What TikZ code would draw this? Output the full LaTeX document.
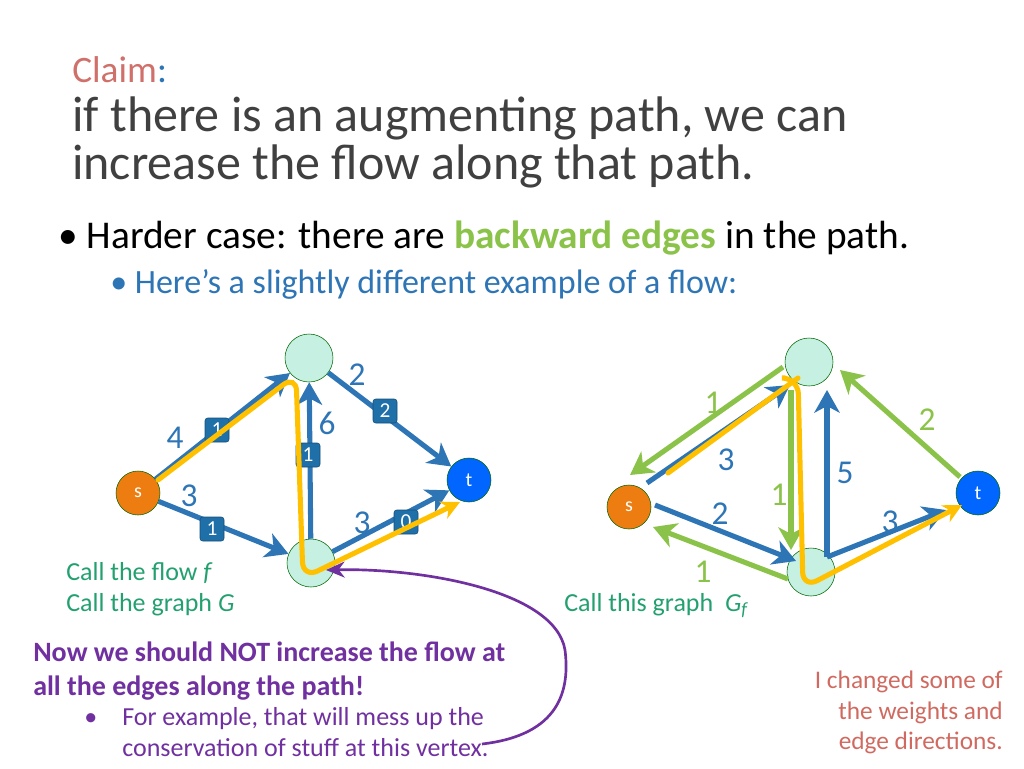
\documentclass[tikz,border=0pt]{standalone}
\usepackage{fontspec}
\setmainfont{Carlito}
\usetikzlibrary{arrows.meta}
\definecolor{eblue}{HTML}{2E75B6}
\definecolor{egreen}{HTML}{8BC34A}
\definecolor{ygold}{HTML}{FFC000}
\definecolor{mint}{HTML}{C6F0E2}
\definecolor{sorange}{HTML}{ED7D11}
\definecolor{tblue}{HTML}{0066FF}
\definecolor{boxblue}{HTML}{1F6FA8}
\definecolor{ttext}{HTML}{404040}
\definecolor{claimc}{HTML}{D0706A}
\definecolor{lblue}{HTML}{2E75B6}
\definecolor{tgreen}{HTML}{23A06F}
\definecolor{purp}{HTML}{7030A0}
\definecolor{notec}{HTML}{D06A60}
\begin{document}
\begin{tikzpicture}[x=0.75pt,y=-0.75pt,
  vtx/.style={circle,draw=black!60!green,fill=mint,minimum size=36pt,inner sep=0pt},
  snode/.style={circle,draw=black!60!green,fill=sorange,minimum size=33pt,inner sep=0pt,text=white,font=\fontsize{15}{15}\selectfont},
  tnode/.style={circle,draw=black!60!green,fill=tblue,minimum size=33pt,inner sep=0pt,text=white,font=\fontsize{15}{15}\selectfont},
  be/.style={draw=eblue,line width=3.8pt,-{Stealth[length=17pt,width=19pt,inset=5pt]}},
  ge/.style={draw=egreen,line width=3.8pt,-{Stealth[length=17pt,width=19pt,inset=5pt]}},
  fbox/.style={fill=boxblue,draw=boxblue!70!black,rounded corners=2pt,minimum size=18pt,inner sep=0pt,text=white,font=\fontsize{16}{16}\selectfont},
  bl/.style={text=eblue,font=\fontsize{25}{25}\selectfont},
  gl/.style={text=egreen,font=\fontsize{25}{25}\selectfont},
  ypath/.style={draw=ygold,line width=3.8pt,rounded corners=12pt,line cap=round},
  yarrow/.style={ypath,-{Stealth[length=14pt,width=14pt]}}]
\useasboundingbox (0,0) rectangle (1024,768);
% title
\node[anchor=base west,inner sep=0pt,font=\fontsize{28}{28}\selectfont] (claim) at (72,82) {\textcolor{claimc}{Claim}\textcolor{lblue}{:}};
\node[anchor=base west,inner sep=0pt,text=ttext,font=\fontsize{37.5}{37.5}\selectfont] (t1) at (72,131) {if there is an augmenting path, we can};
\node[anchor=base west,inner sep=0pt,text=ttext,font=\fontsize{37.5}{37.5}\selectfont] (t2) at (72,179) {increase the flow along that path.};
\node[anchor=base west,inner sep=0pt,font=\fontsize{29.5}{29.5}\selectfont] (b1) at (58,248) {\textbullet\ Harder case: there are \textcolor{egreen}{\textbf{backward edges}} in the path.};
\node[anchor=base west,inner sep=0pt,text=lblue,font=\fontsize{25.5}{25.5}\selectfont] (b2) at (110,293) {\textbullet\ Here’s a slightly different example of a flow:};
% left graph
\node[snode] (s1) at (138,493) {s};
\node[vtx] (u1) at (309,358) {};
\node[vtx] (v1) at (311,563) {};
\node[tnode] (t1n) at (469,480) {t};
\draw[be] (s1) -- (u1);
\draw[be] (s1) -- (v1);
\draw[be] (v1) -- (u1);
\draw[be] (u1) -- (t1n);
\draw[be] (v1) -- (t1n);
\node[fbox] (f1) at (217,430) {1};
\node[fbox] (f2) at (212,529) {1};
\node[fbox] (f3) at (308,455) {1};
\node[fbox] (f4) at (385,411) {2};
\node[fbox] (f5) at (406,522) {0};
\node[bl] (c1) at (175,438) {4};
\node[bl] (c2) at (189,496) {3};
\node[bl] (c3) at (327,423) {6};
\node[bl] (c4) at (357,375) {2};
\node[bl] (c5) at (362,523) {3};
\draw[yarrow] (158,480) -- (296,375) -- (303,578) -- (460,502);
% right graph
\node[snode] (s2) at (629,507) {s};
\node[vtx] (u2) at (809,362) {};
\node[vtx] (v2) at (811,572) {};
\node[tnode] (t2n) at (978,493) {t};
\coordinate (ga1) at (783,367); \coordinate (ga2) at (630,475);
\coordinate (bb1) at (647,483); \coordinate (bb2) at (790,385);
\coordinate (gc1) at (791,390); \coordinate (gc2) at (791,550);
\coordinate (bd1) at (655,505); \coordinate (bd2) at (796,561);
\coordinate (ge1) at (788,579); \coordinate (ge2) at (653,527);
\coordinate (bf1) at (827,557); \coordinate (bf2) at (827,390);
\coordinate (bg2) at (946,510);
\coordinate (gh1) at (960,477); \coordinate (gh2) at (840,370);
\draw[ge] (ga1) -- (ga2);
\draw[be] (bb1) -- (bb2);
\draw[ge] (gc1) -- (gc2);
\draw[be] (bd1) -- (bd2);
\draw[ge] (ge1) -- (ge2);
\draw[be] (bf1) -- (bf2);
\draw[be] (bf1) -- (bg2);
\draw[ge] (gh1) -- (gh2);
\node[gl] (d1) at (713,403) {1};
\node[bl] (d2) at (726,460) {3};
\node[gl] (d3) at (779,495) {1};
\node[bl] (d4) at (720,514) {2};
\node[gl] (d5) at (703,572) {1};
\node[bl] (d6) at (845,473) {5};
\node[bl] (d7) at (890,522) {3};
\node[gl] (d8) at (927,420) {2};
\draw[ypath] (668,473) -- (798,378);
\draw[yarrow] (785,378) -- (798,378) -- (803,588) -- (962,505);
% labels
\node[anchor=base west,inner sep=0pt,text=tgreen,font=\fontsize{19.5}{19.5}\selectfont] (lf) at (66,580) {Call the flow \textit{f}};
\node[anchor=base west,inner sep=0pt,text=tgreen,font=\fontsize{19.5}{19.5}\selectfont] (lg) at (66,611) {Call the graph \textit{G}};
\node[anchor=base west,inner sep=0pt,text=tgreen,font=\fontsize{19.5}{19.5}\selectfont] (lgf) at (564,611) {Call this graph\ \ \textit{G}\raisebox{-3pt}{\fontsize{14}{14}\selectfont\textit{f}}};
\node[anchor=base west,inner sep=0pt,text=purp,font=\bfseries\fontsize{21}{21}\selectfont] (p1) at (33,661) {Now we should NOT increase the flow at};
\node[anchor=base west,inner sep=0pt,text=purp,font=\bfseries\fontsize{21}{21}\selectfont] (p2) at (33,695) {all the edges along the path!};
\node[anchor=base west,inner sep=0pt,text=purp,font=\fontsize{19.5}{19.5}\selectfont] (p3) at (84,725) {\textbullet};
\node[anchor=base west,inner sep=0pt,text=purp,font=\fontsize{19.5}{19.5}\selectfont] (p4) at (122,725) {For example, that will mess up the};
\node[anchor=base west,inner sep=0pt,text=purp,font=\fontsize{19.5}{19.5}\selectfont] (p5) at (122,756) {conservation of stuff at this vertex.};
\coordinate (pe) at (482,744);
\draw[purp,line width=2pt,-{Stealth[length=14pt,width=12pt]}] (pe) .. controls (560,735) and (570,690) .. (565,650) .. controls (555,590) and (420,568) .. (326,570);
\node[anchor=base east,inner sep=0pt,text=notec,font=\fontsize{19}{19}\selectfont] (n1) at (1003,688) {I changed some of};
\node[anchor=base east,inner sep=0pt,text=notec,font=\fontsize{19}{19}\selectfont] (n2) at (1003,719) {the weights and};
\node[anchor=base east,inner sep=0pt,text=notec,font=\fontsize{19}{19}\selectfont] (n3) at (1003,749) {edge directions.};
\end{tikzpicture}
\end{document}
